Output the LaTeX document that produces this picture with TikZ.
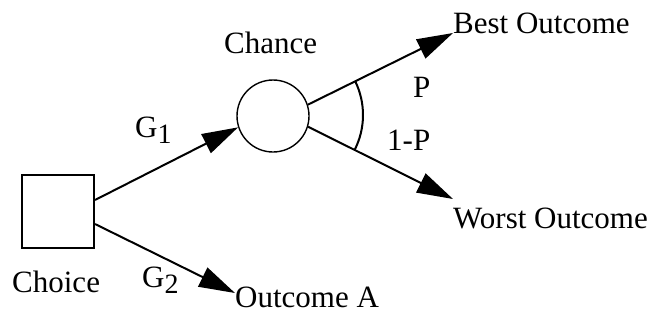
\documentclass[tikz,border=0pt]{standalone}
\usepackage{fontspec}
\setmainfont{Liberation Serif}
\usetikzlibrary{arrows.meta}
\begin{document}
\begin{tikzpicture}[x=1pt,y=-1pt,
  lbl/.style={inner sep=0pt, anchor=base west, font=\fontsize{31}{36}\selectfont},
  conn/.style={line width=2pt, -{Triangle[length=36pt,width=21pt]}}]
\useasboundingbox (0,0) rectangle (656,322);
\node[draw, line width=2pt, minimum width=72pt, minimum height=73pt, inner sep=0pt] (sq) at (58,211.5) {};
\node[draw, circle, line width=1.4pt, minimum size=72pt, inner sep=0pt] (ch) at (273,116) {};
\coordinate (apex) at (286,115);
% labels
\node[lbl] (choice) at (12,292) {Choice};
\node[lbl] (chance) at (224,53) {Chance};
\node[lbl] (best) at (453,33) {Best Outcome};
\node[lbl] (worst) at (453,228) {Worst Outcome};
\node[lbl] (outa) at (235,307) {Outcome A};
\node[lbl] (p) at (413,97) {P};
\node[lbl] (q) at (387,150) {1-P};
\node[lbl] (g1) at (135,137) {G\raisebox{-6pt}{\fontsize{28}{30}\selectfont 1}};
\node[lbl] (g2) at (142,287) {G\raisebox{-6pt}{\fontsize{28}{30}\selectfont 2}};
% tips
\coordinate (tb) at (453,33);
\coordinate (tw) at (453,199);
\coordinate (ta) at (235,293);
% connectors
\draw[conn] ([yshift=11.5pt]sq.east) -- (ch.198);
\draw[conn] ([yshift=-12.5pt]sq.east) -- (ta);
\draw[conn] (ch.18) -- (tb);
\draw[conn] (ch.-17) -- (tw);
% arc
\draw[line width=2pt] (apex) ++(26:77pt) arc[start angle=26, end angle=-27, radius=77pt];
\end{tikzpicture}
\end{document}
